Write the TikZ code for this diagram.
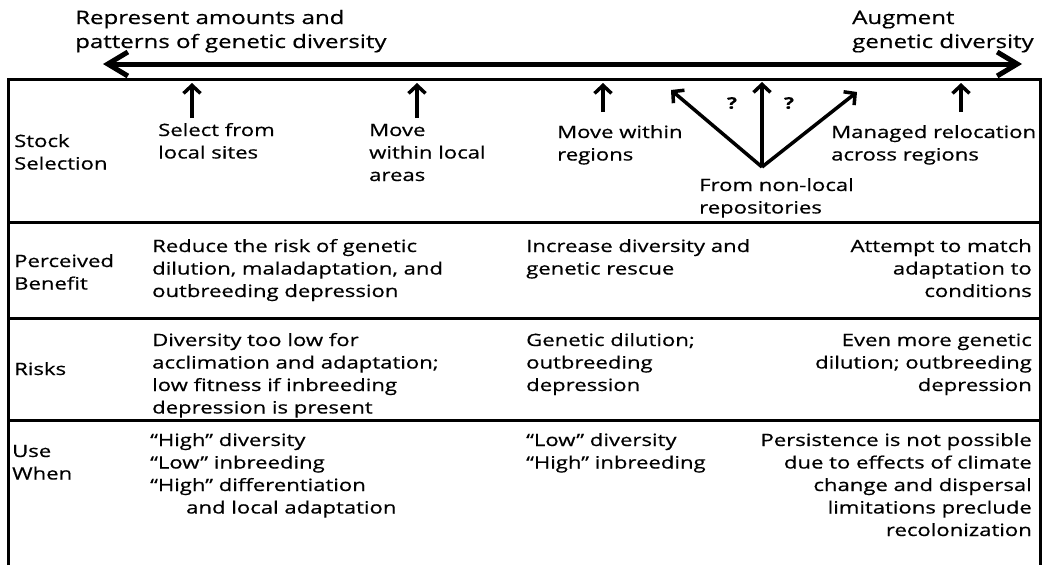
\documentclass[tikz,border=0pt]{standalone}
\usepackage{fontspec}
\setmainfont{Open Sans}[FakeStretch=1.3,FakeBold=0.6]
\usetikzlibrary{arrows.meta}
\begin{document}
\begin{tikzpicture}[x=1pt,y=-1pt,
  lbl/.style={inner sep=0pt, align=left, anchor=base west, font=\fontsize{17}{22.5}\selectfont},
  lblr/.style={inner sep=0pt, align=right, anchor=base east, font=\fontsize{17}{22.5}\selectfont},
  big/.style={inner sep=0pt, align=left, anchor=base west, font=\fontsize{18.5}{24}\selectfont},
  grid/.style={line width=3pt},
  up/.style={line width=3.5pt, -{Straight Barb[length=8pt,width=17pt]}},
  axis/.style={line width=5pt, {Straight Barb[length=20pt,width=24pt]}-{Straight Barb[length=20pt,width=24pt]}},
  q/.style={inner sep=0pt, font=\bfseries\fontsize{16}{16}\selectfont}]
\useasboundingbox (0,0) rectangle (1048,565);
% table frame
\draw[grid] (8,565) -- (8,79) -- (1040,79) -- (1040,565);
\draw[grid] (8,222) -- (1040,222);
\draw[grid] (8,318) -- (1040,318);
\draw[grid] (8,420) -- (1040,420);
% axis (base anchor = last line)
\node[big] (repr) at (75,48) {Represent amounts and\\patterns of genetic diversity};
\node[big] (aug) at (852,48) {Augment\\genetic diversity};
\coordinate (axL) at (103,64);
\coordinate (axR) at (1022,64);
\draw[axis] (axL) -- (axR);
% stock selection
\node[lbl] (stock) at (14,169.5) {Stock\\Selection};
\node[lbl] (sel) at (158,158.5) {Select from\\local sites};
\node[lbl] (mloc) at (369,181) {Move\\within local\\areas};
\node[lbl] (mreg) at (557,160.5) {Move within\\regions};
\node[lbl] (mrel) at (831,160.5) {Managed relocation\\across regions};
\node[lbl] (repo) at (699,213.5) {From non-local\\repositories};
\node[q] (q1) at (732,103) {?};
\node[q] (q2) at (789,103) {?};
\coordinate (s1) at (192,118); \coordinate (e1) at (192,83);
\coordinate (s2) at (417,118); \coordinate (e2) at (417,83);
\coordinate (s3) at (603,112); \coordinate (e3) at (603,83);
\coordinate (s4) at (961,112); \coordinate (e4) at (961,83);
\coordinate (hub) at (762,167);
\coordinate (hL) at (671,90); \coordinate (hC) at (762,82); \coordinate (hR) at (857,92);
\draw[up] (s1) -- (e1);
\draw[up] (s2) -- (e2);
\draw[up] (s3) -- (e3);
\draw[up] (s4) -- (e4);
\draw[up] (hub) -- (hL);
\draw[up] (hub) -- (hC);
\draw[up] (hub) -- (hR);
% perceived benefit
\node[lbl] (pb) at (14,289.5) {Perceived\\Benefit};
\node[lbl] (pb1) at (152,297) {Reduce the risk of genetic\\dilution, maladaptation, and\\outbreeding depression};
\node[lbl] (pb2) at (526,274.5) {Increase diversity and\\genetic rescue};
\node[lblr] (pb3) at (1032,297) {Attempt to match\\adaptation to\\conditions};
% risks
\node[lbl] (rk) at (14,375) {Risks};
\node[lbl] (rk1) at (152,413.5) {Diversity too low for\\acclimation and adaptation;\\low fitness if inbreeding\\depression is present};
\node[lbl] (rk2) at (526,391) {Genetic dilution;\\outbreeding\\depression};
\node[lblr] (rk3) at (1032,391) {Even more genetic\\dilution; outbreeding\\depression};
% use when
\node[lbl] (uw) at (12,479.5) {Use\\When};
\node[lbl] (uw1) at (150,513.5) {“High” diversity\\“Low” inbreeding\\“High” differentiation\\\hspace*{36pt}and local adaptation};
\node[lbl] (uw2) at (526,468.5) {“Low” diversity\\“High” inbreeding};
\node[lblr] (uw3) at (1032,536) {Persistence is not possible\\due to effects of climate\\change and dispersal\\limitations preclude\\recolonization};
\end{tikzpicture}
\end{document}
